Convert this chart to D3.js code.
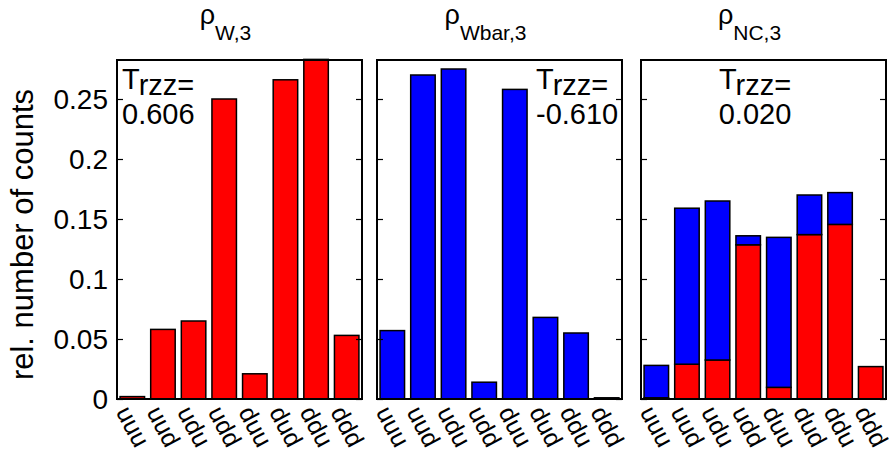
<!DOCTYPE html>
<html>
<head>
<meta charset="utf-8">
<script src="https://cdn.jsdelivr.net/npm/d3@7"></script>
<style>
  body { margin: 0; background: #fff; }
  svg { font-family: "Liberation Sans", Arial, sans-serif; }
</style>
</head>
<body>
<svg id="chart" width="893" height="460"></svg>
<script>
const categories = ["uuu", "uud", "udu", "udd", "duu", "dud", "ddu", "ddd"],
    wValues = [0.002, 0.058, 0.065, 0.250, 0.021, 0.266, 0.283, 0.053],
    wbarValues = [0.057, 0.270, 0.275, 0.014, 0.258, 0.068, 0.055, 0.001],
    ncRed = [0.001, 0.029, 0.0325, 0.1285, 0.0097, 0.137, 0.1455, 0.027],
    ncBlue = [0.027, 0.130, 0.1325, 0.0075, 0.125, 0.033, 0.0265, 0],
    yTicks = [0, 0.05, 0.1, 0.15, 0.2, 0.25],
    trzz = ["0.606", "-0.610", "0.020"],
    red = "#ff0000",
    blue = "#0000ff";

const panels = [
    {left: 117, sub: "W,3", layers: [{vals: wValues, color: red}], note: trzz[0], noteX: 122, anchor: "start"},
    {left: 377, sub: "Wbar,3", layers: [{vals: wbarValues, color: blue}], note: trzz[1], noteX: 536, anchor: "start"},
    {left: 641, sub: "NC,3", layers: [{vals: ncRed, color: red}, {vals: ncBlue, color: blue}], note: trzz[2], noteX: 755, anchor: "middle"}
];

const plotTop = 60, plotBottom = 399, pw = 245;

const svg = d3.select("#chart");

const yScale = d3.scaleLinear().domain([0, 0.2825]).range([plotBottom, plotTop]);
const xScale = d3.scaleBand().domain(categories).range([0, pw])
    .paddingInner(0.2).paddingOuter(0.1);

panels.forEach(function(p, pi) {
    var g = svg.append("g").attr("transform", "translate(" + p.left + ",0)");

    // bars (stacked if more than one layer)
    var base = categories.map(function() { return 0; });
    p.layers.forEach(function(layer) {
        var rows = categories.map(function(c, i) {
            var r = {cat: c, y0: base[i], y1: base[i] + layer.vals[i]};
            base[i] = r.y1;
            return r;
        });
        g.selectAll(null)
            .data(rows.filter(function(d) { return d.y1 > d.y0; }))
            .enter().append("rect")
            .attr("x", function(d) { return xScale(d.cat); })
            .attr("y", function(d) { return yScale(d.y1); })
            .attr("width", xScale.bandwidth())
            .attr("height", function(d) { return yScale(d.y0) - yScale(d.y1); })
            .attr("fill", layer.color)
            .attr("stroke", "#000")
            .attr("stroke-width", 1.5);
    });

    // inner ticks on both sides
    g.append("g")
        .call(d3.axisLeft(yScale).tickValues(yTicks).tickSize(-6).tickFormat(""))
        .call(function(a) { a.select(".domain").remove(); a.selectAll("line").attr("stroke-width", 1.2); });
    g.append("g")
        .attr("transform", "translate(" + pw + ",0)")
        .call(d3.axisRight(yScale).tickValues(yTicks).tickSize(-6).tickFormat(""))
        .call(function(a) { a.select(".domain").remove(); a.selectAll("line").attr("stroke-width", 1.2); });

    // box
    g.append("rect")
        .attr("x", 0).attr("y", plotTop)
        .attr("width", pw).attr("height", plotBottom - plotTop)
        .attr("fill", "none").attr("stroke", "#000").attr("stroke-width", 2);

    // x tick labels, rotated
    g.selectAll(".xl")
        .data(categories)
        .enter().append("text")
        .attr("transform", function(d) {
            return "translate(" + (xScale(d) + xScale.bandwidth() / 2 - 9) + "," + (plotBottom + 9) + ") rotate(62)";
        })
        .attr("dy", "0.35em")
        .attr("font-size", 25)
        .text(function(d) { return d; });

    // title
    var t = svg.append("text")
        .attr("x", p.left + pw / 2 - 14)
        .attr("y", 24)
        .attr("text-anchor", "middle");
    t.append("tspan").attr("font-size", 27).text("ρ");
    t.append("tspan").attr("font-size", 21).attr("dy", 16).text(p.sub);

    // T_rzz annotation
    var n = svg.append("text")
        .attr("x", p.noteX)
        .attr("y", 89)
        .attr("text-anchor", p.anchor)
        .attr("font-size", 29);
    n.append("tspan").text("T");
    n.append("tspan").attr("dy", 6).text("rzz=");
    svg.append("text")
        .attr("x", p.noteX)
        .attr("y", 124)
        .attr("text-anchor", p.anchor)
        .attr("font-size", 29)
        .text(p.note);

    // y tick labels only on the first panel
    if (pi === 0) {
        svg.append("g").selectAll("text")
            .data(yTicks)
            .enter().append("text")
            .attr("x", p.left - 9)
            .attr("y", function(d) { return yScale(d); })
            .attr("dy", "0.35em")
            .attr("text-anchor", "end")
            .attr("font-size", 28)
            .text(function(d) { return d; });
    }
});

svg.append("text")
    .attr("transform", "translate(33," + ((plotTop + plotBottom) / 2 + 5) + ") rotate(-90)")
    .attr("text-anchor", "middle")
    .attr("font-size", 31)
    .text("rel. number of counts");
</script>
</body>
</html>
